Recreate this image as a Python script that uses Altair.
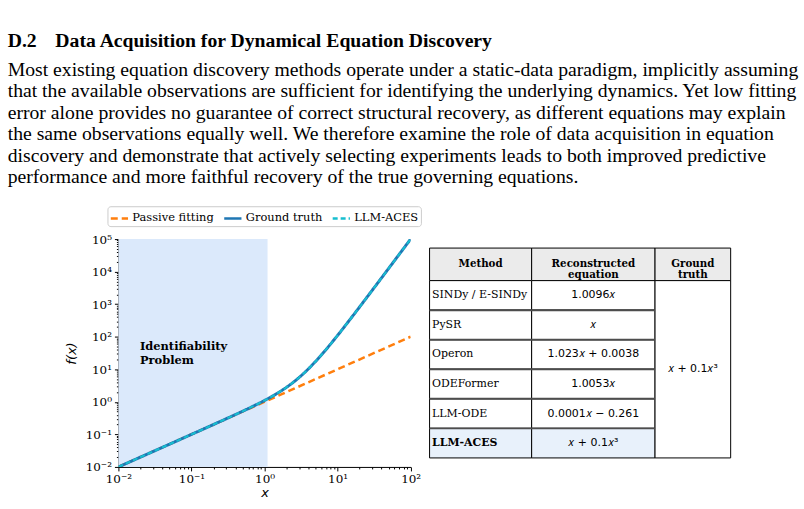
import altair as alt
import pandas as pd

# ---------------- text ----------------
heading = "D.2\u2002 \u2009Data Acquisition for Dynamical Equation Discovery"
paragraph = [
    "Most existing equation discovery methods operate under a static-data paradigm, implicitly assuming",
    "that the available observations are sufficient for identifying the underlying dynamics. Yet low fitting",
    "error alone provides no guarantee of correct structural recovery, as different equations may explain",
    "the same observations equally well. We therefore examine the role of data acquisition in equation",
    "discovery and demonstrate that actively selecting experiments leads to both improved predictive",
    "performance and more faithful recovery of the true governing equations.",
]

# ---------------- chart data ----------------
series_names = ["Passive fitting", "Ground truth", "LLM-ACES"]
series_colors = ["#ff7f0e", "#1f77b4", "#17becf"]

passive_x = [0.01, 100]
passive_y = [0.01, 100]

truth_x = [0.01, 0.1, 0.2, 0.3, 0.5, 0.7, 1, 1.5, 2, 3, 4, 5, 7, 10, 15, 20, 30, 50, 70, 100]
truth_y = [0.01, 0.1, 0.2008, 0.3027, 0.5125, 0.7343, 1.1, 1.84, 2.8, 5.7, 10.4, 17.5, 41.3,
           110, 352.5, 820, 2730, 12550, 34370, 100100]

aces_x = truth_x
aces_y = truth_y

shade_x = [0.01, 1.1]
y_domain = [0.01, 1e5]
x_domain = [0.01, 100]

annot_text = "Identifiability\nProblem"
annot_x = 0.0197
annot_y = 48

# ---------------- table data ----------------
headers = ["Method", "Reconstructed\nequation", "Ground\ntruth"]
methods = ["SINDy / E-SINDy", "PySR", "Operon", "ODEFormer", "LLM-ODE", "LLM-ACES"]
equations = ["1.0096\U0001D465", "\U0001D465", "1.023\U0001D465 + 0.0038", "1.0053\U0001D465",
             "0.0001\U0001D465 \u2212 0.261", "\U0001D465 + 0.1\U0001D465\u00b3"]
ground_truth = "\U0001D465 + 0.1\U0001D465\u00b3"
highlight_method = "LLM-ACES"

# table geometry (layout)
col_edges = [0, 102.6, 226.6, 302.6]
header_h = 32.7
row_h = 29.7
row_edges = [0, header_h] + [header_h + row_h * (i + 1) for i in range(len(methods))]
table_w = col_edges[-1]
table_h = row_edges[-1]

# ---------------- build frames ----------------
line_df = pd.concat([
    pd.DataFrame({"series": series_names[0], "x": passive_x, "y": passive_y}),
    pd.DataFrame({"series": series_names[1], "x": truth_x, "y": truth_y}),
    pd.DataFrame({"series": series_names[2], "x": aces_x, "y": aces_y}),
])

xscale = alt.Scale(type="log", domain=x_domain, nice=False)
yscale = alt.Scale(type="log", domain=y_domain, nice=False)

x_ticks = [m * 10.0 ** k for k in range(-2, 2) for m in range(1, 10)] + [100.0]
y_ticks = [m * 10.0 ** k for k in range(-2, 5) for m in range(1, 10)] + [1e5]

major_test = "abs(log(datum.value)/LN10 - round(log(datum.value)/LN10)) < 0.001"
sup = "['10\u207b\u00b2','10\u207b\u00b9','10\u2070','10\u00b9','10\u00b2','10\u00b3','10\u2074','10\u2075']"
label_expr = f"{major_test} ? {sup}[round(log(datum.value)/LN10)+2] : ''"

def axis(title, values, pad_title):
    return alt.Axis(
        title=title, values=values, labelExpr=label_expr, labelOverlap=False, labelFlush=False,
        tickSize={"condition": {"test": major_test, "value": 4}, "value": 2},
        grid=False, domainColor="black", tickColor="black", labelColor="black",
        labelFont="DejaVu Serif", labelFontSize=12, labelPadding=3,
        titleFont="DejaVu Sans", titleFontStyle="italic", titleFontWeight="normal",
        titleFontSize=13, titleColor="black", titlePadding=pad_title,
    )

color_scale = alt.Scale(domain=series_names, range=series_colors)
dash_scale = alt.Scale(domain=series_names, range=[[7, 4], [1, 0], [5, 3]])
legend = alt.Legend(
    title=None, orient="none", legendX=-11, legendY=-33, direction="horizontal",
    symbolType="stroke", symbolSize=300, symbolStrokeWidth=2.5, labelFont="DejaVu Serif",
    labelFontSize=11.5, labelColor="black", labelOffset=3, columnPadding=5, padding=2,
    strokeColor="#cccccc", cornerRadius=3, fillColor="white",
)

shade = alt.Chart(pd.DataFrame({"x0": [shade_x[0]], "x1": [shade_x[1]],
                                "y0": [y_domain[0]], "y1": [y_domain[1]]})).mark_rect(
    color="#dbe9fb").encode(
    x=alt.X("x0:Q", scale=xscale, axis=axis("x", x_ticks, 2)),
    x2="x1:Q",
    y=alt.Y("y0:Q", scale=yscale, axis=axis("f(x)", y_ticks, 7)),
    y2="y1:Q",
)

def line_layer(name, width):
    return alt.Chart(line_df).transform_filter(alt.datum.series == name).mark_line(
        strokeWidth=width, interpolate="monotone", clip=True).encode(
        x=alt.X("x:Q", scale=xscale),
        y=alt.Y("y:Q", scale=yscale),
        color=alt.Color("series:N", scale=color_scale, legend=legend),
        strokeDash=alt.StrokeDash("series:N", scale=dash_scale, legend=legend),
    )

annot = alt.Chart(pd.DataFrame({"x": [annot_x], "y": [annot_y], "t": [annot_text]})).mark_text(
    align="left", baseline="middle", font="DejaVu Serif", fontWeight="bold", fontSize=11.5,
    lineBreak="\n", lineHeight=14.3, color="black").encode(
    x=alt.X("x:Q", scale=xscale), y=alt.Y("y:Q", scale=yscale), text="t:N")

plot = alt.layer(shade, line_layer(series_names[0], 2.5), line_layer(series_names[1], 3),
                 line_layer(series_names[2], 2), annot).properties(width=293.7, height=229)

# ---------------- table ----------------
cells = []
for c, h in enumerate(headers):
    cells.append({"x0": col_edges[c], "x1": col_edges[c + 1], "y0": row_edges[0], "y1": row_edges[1],
                  "kind": "header"})
for i, m in enumerate(methods):
    kind = "highlight" if m == highlight_method else "body"
    for c in range(2):
        cells.append({"x0": col_edges[c], "x1": col_edges[c + 1], "y0": row_edges[i + 1],
                      "y1": row_edges[i + 2], "kind": kind})
cells.append({"x0": col_edges[2], "x1": col_edges[3], "y0": row_edges[1], "y1": row_edges[-1],
              "kind": "body"})
cells_df = pd.DataFrame(cells)

tx = alt.Scale(domain=[0, table_w], nice=False, zero=False)
ty = alt.Scale(domain=[0, table_h], nice=False, zero=False, reverse=True)

rects = alt.Chart(cells_df).mark_rect(stroke="black", strokeWidth=1).encode(
    x=alt.X("x0:Q", scale=tx, axis=None), x2="x1:Q",
    y=alt.Y("y0:Q", scale=ty, axis=None), y2="y1:Q",
    fill=alt.Fill("kind:N", scale=alt.Scale(domain=["header", "body", "highlight"],
                                            range=["#ebebeb", "#ffffff", "#e8f1fb"]), legend=None),
)

sep_df = pd.DataFrame({"y": row_edges[2:-1], "x0": col_edges[0], "x1": col_edges[2]})
seps = alt.Chart(sep_df).mark_rule(color="#4d4d4d", strokeWidth=2).encode(
    x=alt.X("x0:Q", scale=tx, axis=None), x2="x1:Q", y=alt.Y("y:Q", scale=ty, axis=None))

head_df = pd.DataFrame({"t": headers,
                        "x": [(col_edges[c] + col_edges[c + 1]) / 2 for c in range(3)],
                        "y": [(row_edges[0] + row_edges[1]) / 2] * 3})
head_text = alt.Chart(head_df).mark_text(
    font="DejaVu Serif", fontWeight="bold", fontSize=10.3, lineBreak="\n", lineHeight=10.8,
    baseline="middle", color="black").encode(
    x=alt.X("x:Q", scale=tx, axis=None), y=alt.Y("y:Q", scale=ty, axis=None), text="t:N")

body_df = pd.DataFrame({
    "m": methods, "eq": equations,
    "xm": col_edges[0], "xe": (col_edges[1] + col_edges[2]) / 2,
    "y": [(row_edges[i + 1] + row_edges[i + 2]) / 2 for i in range(len(methods))],
})
meth_text = alt.Chart(body_df).transform_filter(alt.datum.m != highlight_method).mark_text(
    font="DejaVu Serif", fontSize=11, align="left", dx=2.5, baseline="middle", color="black").encode(
    x=alt.X("xm:Q", scale=tx, axis=None), y=alt.Y("y:Q", scale=ty, axis=None), text="m:N")
meth_bold = alt.Chart(body_df).transform_filter(alt.datum.m == highlight_method).mark_text(
    font="DejaVu Serif", fontSize=11, fontWeight="bold", align="left", dx=2.5, baseline="middle",
    color="black").encode(
    x=alt.X("xm:Q", scale=tx, axis=None), y=alt.Y("y:Q", scale=ty, axis=None), text="m:N")
eq_text = alt.Chart(body_df).mark_text(
    font="DejaVu Sans", fontSize=11, baseline="middle", color="black").encode(
    x=alt.X("xe:Q", scale=tx, axis=None), y=alt.Y("y:Q", scale=ty, axis=None), text="eq:N")
gt_df = pd.DataFrame({"t": [ground_truth], "x": [(col_edges[2] + col_edges[3]) / 2],
                      "y": [(row_edges[1] + row_edges[-1]) / 2]})
gt_text = alt.Chart(gt_df).mark_text(
    font="DejaVu Sans", fontSize=11, baseline="middle", color="black").encode(
    x=alt.X("x:Q", scale=tx, axis=None), y=alt.Y("y:Q", scale=ty, axis=None), text="t:N")

table = alt.layer(rects, seps, head_text, meth_text, meth_bold, eq_text, gt_text).properties(
    width=table_w, height=table_h)

chart = alt.hconcat(plot, table, spacing=18.7, bounds="flush", center=True).properties(
    title=alt.TitleParams(
        text=heading, subtitle=paragraph, anchor="start", frame="group", dx=-111.3,
        font="Liberation Serif", fontSize=19.8, fontWeight="bold", color="black",
        subtitleFont="Liberation Serif", subtitleFontSize=19.8, subtitleColor="black",
        subtitleLineHeight=21.5, subtitlePadding=9, offset=19, lineHeight=19.5,
    ),
    padding={"left": 7, "top": 30, "right": 5, "bottom": 5},
).configure_view(stroke=None)

chart.save("out.html", embed_options={"renderer": "svg", "actions": False})
